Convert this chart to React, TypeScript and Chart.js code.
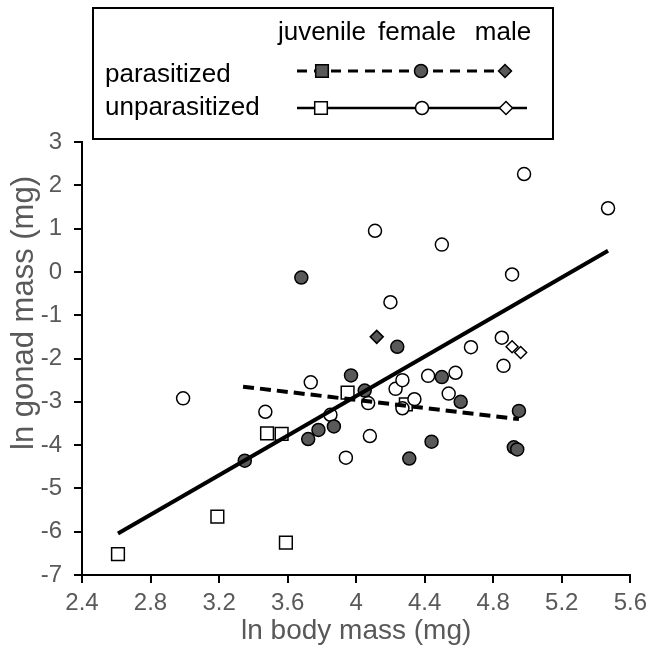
import React, { useEffect, useRef } from "react";
import { Chart, registerables } from "chart.js";

Chart.register(...registerables);

// ---- data ----
const xTickValues = [2.4, 2.8, 3.2, 3.6, 4, 4.4, 4.8, 5.2, 5.6];
const yTickValues = [-7, -6, -5, -4, -3, -2, -1, 0, 1, 2, 3];

const parasitizedJuvenileX: number[] = [];
const parasitizedJuvenileY: number[] = [];

const parasitizedFemaleX = [3.68, 3.35, 3.72, 3.78, 3.87, 3.97, 4.05, 4.24, 4.31, 4.44, 4.5, 4.61, 4.92, 4.94, 4.95];
const parasitizedFemaleY = [-0.13, -4.36, -3.86, -3.65, -3.57, -2.39, -2.74, -1.73, -4.31, -3.92, -2.43, -3.0, -4.05, -4.1, -3.21];

const parasitizedMaleX = [4.12];
const parasitizedMaleY = [-1.5];

const unparasitizedJuvenileX = [2.61, 3.19, 3.59, 3.48, 3.565, 3.95, 4.29];
const unparasitizedJuvenileY = [-6.52, -5.65, -6.25, -3.73, -3.74, -2.79, -3.06];

const unparasitizedFemaleX = [2.99, 3.47, 3.735, 3.85, 3.94, 4.07, 4.08, 4.11, 4.2, 4.23, 4.27, 4.27, 4.34, 4.42, 4.5, 4.54, 4.58, 4.67, 4.85, 4.86, 4.91, 4.98, 5.47];
const unparasitizedFemaleY = [-2.92, -3.23, -2.55, -3.3, -4.29, -3.03, -3.79, 0.95, -0.7, -2.7, -2.5, -3.15, -2.94, -2.4, 0.63, -2.81, -2.33, -1.74, -1.52, -2.17, -0.06, 2.26, 1.47];

const unparasitizedMaleX = [4.91, 4.96];
const unparasitizedMaleY = [-1.73, -1.86];

const unparasitizedFitX = [2.61, 5.47];
const unparasitizedFitY = [-6.04, 0.49];
const parasitizedFitX = [3.34, 4.95];
const parasitizedFitY = [-2.65, -3.4];

const legendColumns = ["juvenile", "female", "male"];
const legendRows = ["parasitized", "unparasitized"];
const xTitle = "ln body mass (mg)";
const yTitle = "ln gonad mass (mg)";

const FONT = "'Liberation Sans', Arial, Helvetica, sans-serif";
const FILL = "#595959";
const TEXT_GREY = "#595959";

const zip = (xs: number[], ys: number[]) => xs.map((x, i) => ({ x, y: ys[i] }));

function marker(ctx: CanvasRenderingContext2D, shape: string, x: number, y: number, filled: boolean) {
  ctx.beginPath();
  if (shape === "square") {
    ctx.rect(x - 6.3, y - 6.3, 12.6, 12.6);
  } else if (shape === "circle") {
    ctx.arc(x, y, 6.5, 0, Math.PI * 2);
  } else {
    ctx.moveTo(x - 6.5, y);
    ctx.lineTo(x, y - 6.5);
    ctx.lineTo(x + 6.5, y);
    ctx.lineTo(x, y + 6.5);
    ctx.closePath();
  }
  ctx.fillStyle = filled ? FILL : "#fff";
  ctx.fill();
  ctx.lineWidth = 1.5;
  ctx.strokeStyle = "#000";
  ctx.stroke();
}

const customPlugin = {
  id: "customLegendAndTitle",
  afterDraw(chart: any) {
    const ctx: CanvasRenderingContext2D = chart.ctx;
    ctx.save();
    // legend box
    ctx.lineWidth = 2;
    ctx.strokeStyle = "#000";
    ctx.strokeRect(93, 8, 460, 131);
    // header
    ctx.fillStyle = "#000";
    ctx.font = `26px ${FONT}`;
    ctx.textBaseline = "alphabetic";
    ctx.textAlign = "center";
    const colX = [322, 417, 503];
    legendColumns.forEach((t, i) => ctx.fillText(t, colX[i], 40));
    ctx.textAlign = "left";
    ctx.fillText(legendRows[0], 105, 82);
    ctx.fillText(legendRows[1], 105, 115);
    // dashed line row
    ctx.beginPath();
    ctx.setLineDash([10, 7]);
    ctx.lineWidth = 3;
    ctx.moveTo(297, 71);
    ctx.lineTo(518, 71);
    ctx.stroke();
    ctx.setLineDash([]);
    marker(ctx, "square", 322, 71, true);
    marker(ctx, "circle", 421, 71, true);
    marker(ctx, "diamond", 505, 71, true);
    // solid line row
    ctx.beginPath();
    ctx.lineWidth = 2.5;
    ctx.strokeStyle = "#000";
    ctx.moveTo(297, 108);
    ctx.lineTo(527, 108);
    ctx.stroke();
    marker(ctx, "square", 321, 108, false);
    marker(ctx, "circle", 422, 108, false);
    marker(ctx, "diamond", 506, 108, false);
    // y axis title
    ctx.translate(24, 313);
    ctx.rotate(-Math.PI / 2);
    ctx.fillStyle = TEXT_GREY;
    ctx.font = `31px ${FONT}`;
    ctx.textAlign = "center";
    ctx.textBaseline = "middle";
    ctx.fillText(yTitle, 0, 0);
    ctx.restore();
  },
};

const fmt = (v: number) => String(Number(v.toFixed(1)));

export default function App() {
  const canvasRef = useRef<HTMLCanvasElement | null>(null);

  useEffect(() => {
    document.body.style.margin = "0";
    const canvas = canvasRef.current;
    if (!canvas) return;
    Chart.defaults.font.family = FONT;

    const pointBase = {
      borderColor: "#000",
      borderWidth: 1.5,
      showLine: false,
    };

    const chart = new Chart(canvas, {
      type: "scatter",
      data: {
        datasets: [
          {
            label: "unparasitized fit",
            data: zip(unparasitizedFitX, unparasitizedFitY),
            showLine: true,
            borderColor: "#000",
            borderWidth: 4,
            pointRadius: 0,
            fill: false,
          },
          {
            label: "parasitized fit",
            data: zip(parasitizedFitX, parasitizedFitY),
            showLine: true,
            borderColor: "#000",
            borderWidth: 4,
            borderDash: [11, 6],
            pointRadius: 0,
            fill: false,
          },
          {
            ...pointBase,
            label: "parasitized male",
            data: zip(parasitizedMaleX, parasitizedMaleY),
            pointStyle: "rectRot",
            pointRadius: 6.5,
            backgroundColor: FILL,
          },
          {
            ...pointBase,
            label: "parasitized female",
            data: zip(parasitizedFemaleX, parasitizedFemaleY),
            pointStyle: "circle",
            pointRadius: 6.5,
            backgroundColor: FILL,
          },
          {
            ...pointBase,
            label: "parasitized juvenile",
            data: zip(parasitizedJuvenileX, parasitizedJuvenileY),
            pointStyle: "rect",
            pointRadius: 9,
            backgroundColor: FILL,
          },
          {
            ...pointBase,
            label: "unparasitized male",
            data: zip(unparasitizedMaleX, unparasitizedMaleY),
            pointStyle: "rectRot",
            pointRadius: 6,
            backgroundColor: "#fff",
          },
          {
            ...pointBase,
            label: "unparasitized female",
            data: zip(unparasitizedFemaleX, unparasitizedFemaleY),
            pointStyle: "circle",
            pointRadius: 6.5,
            backgroundColor: "#fff",
          },
          {
            ...pointBase,
            label: "unparasitized juvenile",
            data: zip(unparasitizedJuvenileX, unparasitizedJuvenileY),
            pointStyle: "rect",
            pointRadius: 9,
            backgroundColor: "#fff",
          },
        ],
      },
      options: {
        animation: false,
        responsive: true,
        maintainAspectRatio: false,
        layout: { padding: { left: 0, right: 18, top: 142, bottom: 0 } },
        plugins: {
          legend: { display: false },
          tooltip: { enabled: false },
        },
        scales: {
          x: {
            type: "linear",
            min: xTickValues[0],
            max: xTickValues[xTickValues.length - 1],
            afterBuildTicks: (s: any) => {
              s.ticks = xTickValues.map((v) => ({ value: v }));
            },
            afterFit: (s: any) => {
              s.height = 73;
            },
            ticks: {
              color: TEXT_GREY,
              font: { size: 24, family: FONT },
              padding: 6,
              maxRotation: 0,
              autoSkip: false,
              callback: (v: any) => fmt(Number(v)),
            },
            grid: {
              display: true,
              drawOnChartArea: false,
              drawTicks: true,
              tickLength: 8,
              color: "#000",
              lineWidth: 2,
            },
            border: { display: true, color: "#000", width: 2 },
            title: {
              display: true,
              text: xTitle,
              color: TEXT_GREY,
              font: { size: 28, family: FONT },
              padding: { top: 0, bottom: 0 },
            },
          },
          y: {
            type: "linear",
            min: yTickValues[0],
            max: yTickValues[yTickValues.length - 1],
            afterBuildTicks: (s: any) => {
              s.ticks = yTickValues.map((v) => ({ value: v }));
            },
            afterFit: (s: any) => {
              s.width = 82;
            },
            ticks: {
              color: TEXT_GREY,
              font: { size: 24, family: FONT },
              padding: 12,
              autoSkip: false,
              callback: (v: any) => fmt(Number(v)),
            },
            grid: {
              display: true,
              drawOnChartArea: false,
              drawTicks: true,
              tickLength: 8,
              color: "#000",
              lineWidth: 2,
            },
            border: { display: true, color: "#000", width: 2 },
          },
        },
      },
      plugins: [customPlugin],
    } as any);

    return () => chart.destroy();
  }, []);

  return (
    <div style={{ position: "relative", width: 653, height: 648, background: "#fff" }}>
      <canvas ref={canvasRef} />
    </div>
  );
}
